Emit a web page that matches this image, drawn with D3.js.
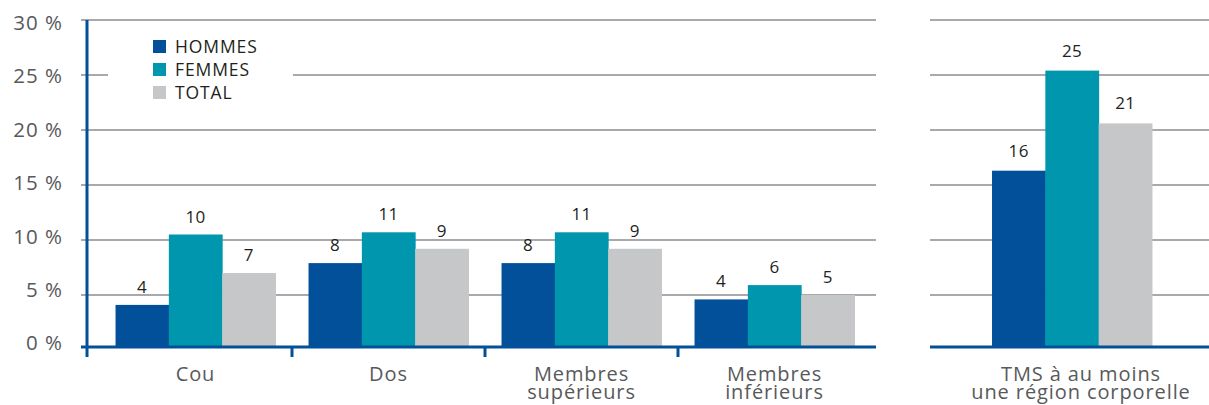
<!DOCTYPE html>
<html>
<head>
<meta charset="utf-8">
<script src="https://cdn.jsdelivr.net/npm/d3@7"></script>
<style>
  body { margin: 0; background: #fff; }
  svg { display: block; font-family: "Open Sans", "Noto Sans", sans-serif; }
</style>
</head>
<body>
<svg id="chart" width="1209" height="405"></svg>
<script>
// data
var categories = ["Cou", "Dos", "Membres supérieurs", "Membres inférieurs"];
var categoryLines = [["Cou"], ["Dos"], ["Membres", "supérieurs"], ["Membres", "inférieurs"]];
var series = ["HOMMES", "FEMMES", "TOTAL"];
var hommes = [4.1, 7.9, 7.9, 4.6];
var femmes = [10.5, 10.7, 10.7, 5.9];
var total = [7.0, 9.2, 9.2, 5.0];
var hommesLabels = ["4", "8", "8", "4"];
var femmesLabels = ["10", "11", "11", "6"];
var totalLabels = ["7", "9", "9", "5"];

var tmsCategory = "TMS à au moins une région corporelle";
var tmsLines = ["TMS à au moins", "une région corporelle"];
var tmsValues = [16.3, 25.4, 20.6];
var tmsLabels = ["16", "25", "21"];

var yTicks = [0, 5, 10, 15, 20, 25, 30];

var colors = { "HOMMES": "#03509a", "FEMMES": "#0096ad", "TOTAL": "#c6c7c9" };
var blue = "#03509a";
var gridColor = "#a9a8ad";

var svg = d3.select("#chart");

var y = d3.scaleLinear().domain([0, 30]).range([350, 20]);
var axisY = y(0) - 3;

// left panel
var x = d3.scaleBand().domain(categories).range([99, 871]);
var xs = d3.scaleBand().domain(series).range([0, x.bandwidth()]).paddingOuter(0.31);
// right panel
var x2 = d3.scaleBand().domain([tmsCategory]).range([975.5, 1168.5]);

// gridlines
var grid = svg.append("g");
grid.selectAll(".gl").data(yTicks.filter(d => d > 0)).enter().append("line")
  .attr("x1", 81).attr("x2", 876)
  .attr("y1", d => y(d)).attr("y2", d => y(d))
  .attr("stroke", gridColor).attr("stroke-width", 2);
grid.selectAll(".gr").data(yTicks.filter(d => d > 0)).enter().append("line")
  .attr("x1", 930).attr("x2", 1209)
  .attr("y1", d => y(d)).attr("y2", d => y(d))
  .attr("stroke", gridColor).attr("stroke-width", 2);

// y tick labels (slightly tighter spacing than the gridlines, as in the original)
svg.append("g").selectAll("text").data(yTicks).enter().append("text")
  .attr("x", 63).attr("y", d => y(d) - 7 + (d / 30) * 9.5)
  .attr("dy", "0.36em")
  .attr("text-anchor", "end")
  .attr("font-size", 20.5).attr("letter-spacing", 1).attr("fill", "#58595b")
  .text(d => d + " %");

// legend (white box interrupts the gridline)
var legend = svg.append("g");
legend.append("rect").attr("x", 108).attr("y", 28).attr("width", 185).attr("height", 80).attr("fill", "#fff");
series.forEach(function (s, i) {
  legend.append("rect")
    .attr("x", 153).attr("y", 40 + i * 23)
    .attr("width", 13).attr("height", 13)
    .attr("fill", colors[s]);
  legend.append("text")
    .attr("x", 175).attr("y", 53 + i * 23)
    .attr("font-size", 17.5).attr("letter-spacing", 0.9).attr("fill", "#231f20")
    .text(s);
});

// left bars
var rows = categories.map(function (c, i) {
  return [
    { cat: c, s: "HOMMES", v: hommes[i], l: hommesLabels[i] },
    { cat: c, s: "FEMMES", v: femmes[i], l: femmesLabels[i] },
    { cat: c, s: "TOTAL", v: total[i], l: totalLabels[i] }
  ];
});
var groups = svg.append("g").selectAll("g").data(rows).enter().append("g")
  .attr("transform", d => "translate(" + x(d[0].cat) + ",0)");
groups.selectAll("rect").data(d => d).enter().append("rect")
  .attr("x", d => xs(d.s)).attr("width", xs.bandwidth() + 0.5)
  .attr("y", d => y(d.v)).attr("height", d => axisY - y(d.v))
  .attr("fill", d => colors[d.s]);
groups.selectAll("text").data(d => d).enter().append("text")
  .attr("x", d => xs(d.s) + xs.bandwidth() / 2)
  .attr("y", d => y(d.v) - 12)
  .attr("text-anchor", "middle")
  .attr("font-size", 17).attr("letter-spacing", 0.4).attr("fill", "#231f20")
  .text(d => d.l);

// right bars
var tmsRows = series.map((s, i) => ({ s: s, v: tmsValues[i], l: tmsLabels[i] }));
var g2 = svg.append("g").attr("transform", "translate(" + x2(tmsCategory) + ",0)");
g2.selectAll("rect").data(tmsRows).enter().append("rect")
  .attr("x", d => xs(d.s)).attr("width", xs.bandwidth() + 0.5)
  .attr("y", d => y(d.v)).attr("height", d => axisY - y(d.v))
  .attr("fill", d => colors[d.s]);
g2.selectAll("text").data(tmsRows).enter().append("text")
  .attr("x", d => xs(d.s) + xs.bandwidth() / 2)
  .attr("y", d => y(d.v) - 14)
  .attr("text-anchor", "middle")
  .attr("font-size", 17).attr("letter-spacing", 0.4).attr("fill", "#231f20")
  .text(d => d.l);

// axes
svg.append("line").attr("x1", 87).attr("x2", 87).attr("y1", y(30)).attr("y2", axisY + 10)
  .attr("stroke", blue).attr("stroke-width", 3);
svg.append("line").attr("x1", 81).attr("x2", 876).attr("y1", axisY).attr("y2", axisY)
  .attr("stroke", blue).attr("stroke-width", 3);
svg.append("line").attr("x1", 930).attr("x2", 1209).attr("y1", axisY).attr("y2", axisY)
  .attr("stroke", blue).attr("stroke-width", 3);
svg.append("g").selectAll("line").data(categories.slice(1)).enter().append("line")
  .attr("x1", d => x(d)).attr("x2", d => x(d))
  .attr("y1", axisY).attr("y2", axisY + 10)
  .attr("stroke", blue).attr("stroke-width", 3);

// category labels, one text per line
var catG = svg.append("g").attr("font-size", 20).attr("letter-spacing", 0.9)
  .attr("fill", "#58595b").attr("text-anchor", "middle");
categories.forEach(function (d, i) {
  categoryLines[i].forEach(function (line, j) {
    catG.append("text")
      .attr("x", x(d) + x.bandwidth() / 2)
      .attr("y", 381 + j * 18)
      .text(line);
  });
});
tmsLines.forEach(function (line, j) {
  catG.append("text")
    .attr("x", x2(tmsCategory) + x2.bandwidth() / 2 + 9)
    .attr("y", 381 + j * 18)
    .text(line);
});
</script>
</body>
</html>
